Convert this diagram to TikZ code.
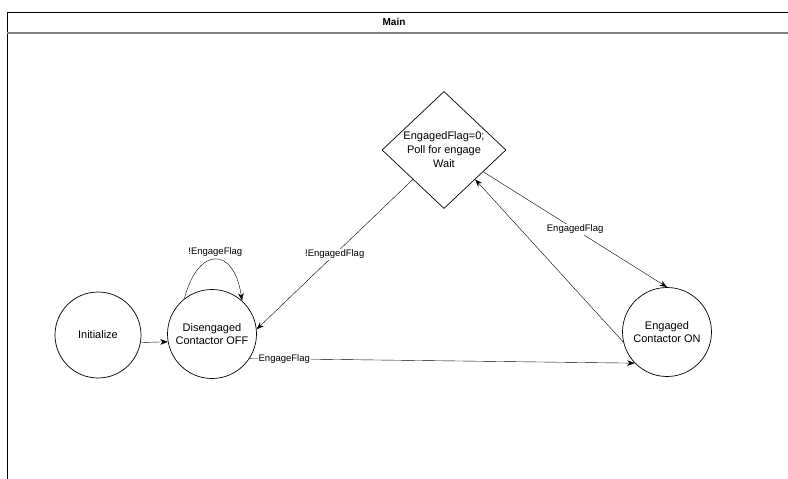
\documentclass[tikz,border=0pt]{standalone}
\usepackage{fontspec}
\setmainfont{Liberation Sans}
\usetikzlibrary{shapes.geometric,arrows.meta,calc}

\begin{document}
\begin{tikzpicture}[x=1pt,y=-1pt,>={Stealth[length=7.5pt,width=5.5pt]},
    state/.style={draw,circle,line width=0.7pt,minimum size=89pt,inner sep=0pt,align=center,font=\fontsize{11}{13}\selectfont},
    decision/.style={draw,diamond,line width=0.7pt,minimum width=124pt,minimum height=115pt,inner sep=0pt,align=center,font=\fontsize{11}{14}\selectfont},
    flag/.style={fill=white,inner sep=1pt,font=\fontsize{9.5}{11}\selectfont}]
         \useasboundingbox (0,0) rectangle (788,479);
         % swimlane frame
         \draw[line width=0.8pt] (788,12) -- (7,12) -- (7,479);
         \draw[gray,line width=1.5pt] (7,33) -- (788,33);
         \node[font=\bfseries\fontsize{10}{12}\selectfont] (title) at (394,22) {Main};
         % states
         \node[state,minimum size=86pt] (init) at (98,335) {Initialize};
         \node[state] (dis) at (212,334) {Disengaged\\Contactor OFF};
         \node[state] (eng) at (667,332) {Engaged\\Contactor ON};
         \node[decision] (poll) at (444,150) {EngagedFlag=0;\\Poll for engage\\Wait};
         % transitions
         \draw[->] (init.-10) -- (dis.190);
         \draw[->] (dis.128) .. controls (198,246) and (234,246) .. (dis.48)
         node[flag,pos=0.5,above=2pt] (selfflag) {!EngageFlag};
         \draw[->] (poll.south west) -- (dis.6)
         node[flag,pos=0.5] (notflag) {!EngagedFlag};
         \draw[->] (dis.-33) -- (eng.224)
         node[flag,pos=0.09] (goflag) {EngageFlag};
         \draw[->] ($(poll.east)!0.37!(poll.south)$) -- (eng.north)
         node[flag,pos=0.5] (onflag) {EngagedFlag};
         \draw[->] (eng.193) -- ($(poll.east)!0.5!(poll.south)$) ;
      \end{tikzpicture}
\end{document}
